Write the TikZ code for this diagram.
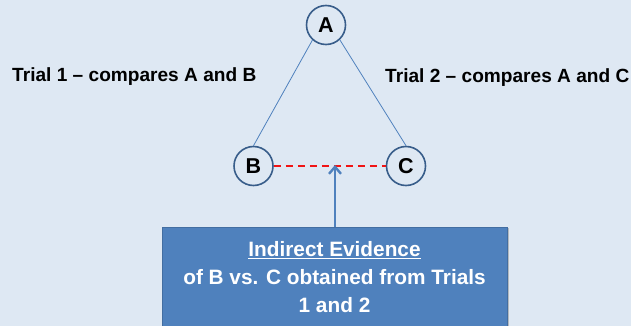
\documentclass[tikz,border=0pt]{standalone}
\usepackage{fontspec}
\setmainfont{Liberation Sans}
\usetikzlibrary{arrows.meta,shadows}
\definecolor{bg}{RGB}{222,232,243}
\definecolor{edge}{RGB}{56,93,138}
\definecolor{accent}{RGB}{79,129,189}
\definecolor{dashred}{RGB}{240,20,20}
\tikzset{
  vert/.style={circle, draw=edge, line width=1.6pt, fill=bg, minimum size=39pt, inner sep=0pt,
    font=\fontsize{21.5}{21.5}\selectfont\bfseries},
  trial/.style={inner sep=0pt, font=\fontsize{19.1}{24}\selectfont\bfseries},
  link/.style={draw=accent, line width=0.8pt},
  indirect/.style={draw=dashred, line width=1.8pt, dash pattern=on 7pt off 5pt},
  evbox/.style={fill=accent, draw=accent!85!black, line width=0.6pt, minimum width=345pt, minimum height=100pt,
    align=center, text=white, font=\fontsize{20.8}{28}\selectfont\bfseries,
    drop shadow={shadow xshift=2pt, shadow yshift=-1pt, opacity=0.45}},
  uparrow/.style={draw=accent, line width=2.8pt, -{Straight Barb[length=7pt,width=12pt,line width=2.4pt]}}
}
\begin{document}
\begin{tikzpicture}[x=1pt,y=-1pt]
\fill[bg] (0,0) rectangle (631,326);
\useasboundingbox (0,0) rectangle (631,326);
\clip (0,0) rectangle (631,326);
\node[vert] (A) at (326,25) {A};
\node[vert] (B) at (253.5,166) {B};
\node[vert] (C) at (406,166) {C};
\draw[link] (A.-132) -- (B.north);
\draw[link] (A.-47) -- (C.north);
\draw[indirect] (B.east) -- (C.west);
\node[trial, anchor=base west] (t1) at (12,82) {Trial 1 -- compares A and B};
\node[trial, anchor=base west] (t2) at (385,83) {Trial 2 -- compares A and C};
\node[evbox, anchor=north] (box) at (334.5,227) {\underline{Indirect Evidence}\\of B vs. C obtained from Trials\\1 and 2};
\coordinate (tip) at (335,165);
\draw[uparrow] (box.north -| tip) -- (tip);
\end{tikzpicture}
\end{document}
